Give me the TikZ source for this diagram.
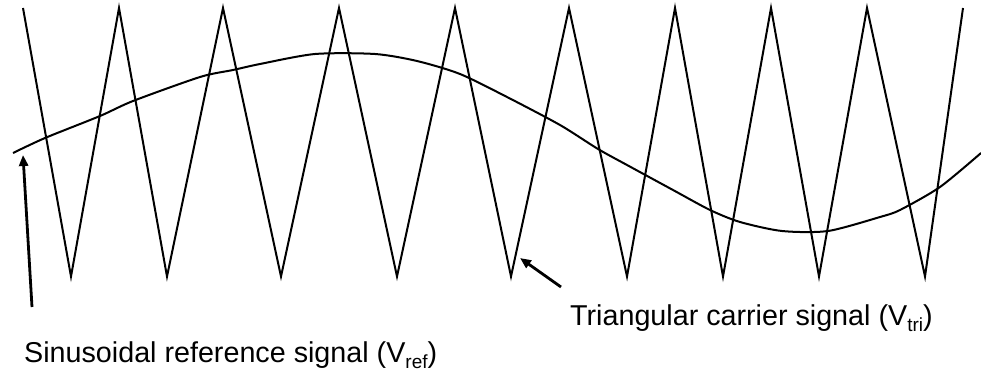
\documentclass[tikz,border=0pt]{standalone}
\usepackage{fontspec}
\setmainfont{Liberation Sans}
\usetikzlibrary{arrows.meta, positioning}
\newcommand{\lowsub}[1]{\raisebox{-6pt}{\fontsize{19}{19}\selectfont #1}}

\begin{document}
\begin{tikzpicture}[x=1pt, y=1pt,
    wave/.style={line width=2pt, line join=miter},
    pointer/.style={line width=2.8pt, -{Triangle[length=11pt, width=9pt]}},
    caption/.style={font=\fontsize{28.7}{33}\selectfont, inner sep=0pt, anchor=base west},
  ]
    \useasboundingbox (0,0) rectangle (981,373);
    \draw[wave] (23,365) -- (71,96.5) -- (119,365) -- (167,96.5) -- (223,365) -- (281,96.5)
      -- (339,365) -- (397,96.5) -- (455,365) -- (511,96.5) -- (569,365) -- (627,96.5)
      -- (675,365) -- (723,96.5) -- (771,365) -- (819,96.5) -- (867,365) -- (925,96.5) -- (963,365);
    \draw[wave] plot[smooth, tension=0.45] coordinates {
      (13,220) (45,235) (100,257) (133,272) (200,296) (233,303) (260,309) (315,319)
      (375,319) (417,312) (460,299) (507,276) (560,248) (598,224) (627,208) (673,183)
      (710,163) (740,151) (782,142) (828,142) (880,156) (900,163) (940,186) (981,220)};
    \node[caption] (vref) at (24,11) {Sinusoidal reference signal (V\lowsub{ref})};
    \node[caption] (vtri) at (570,48) {Triangular carrier signal (V\lowsub{tri})};
    \coordinate (reftail) at (32,66);
    \coordinate (reftip) at (23,218);
    \coordinate (tritail) at (561,86);
    \coordinate (tritip) at (520,115);
    \draw[pointer] (reftail) -- (reftip);
    \draw[pointer] (tritail) -- (tritip);
  \end{tikzpicture}
\end{document}
